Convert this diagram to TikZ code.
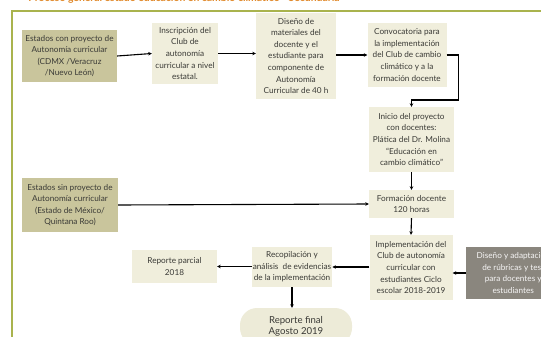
\documentclass[tikz,border=0pt]{standalone}
\usepackage{fontspec}
\setmainfont{Lato}
\usetikzlibrary{arrows.meta}
\definecolor{olivebox}{HTML}{C9C59C}
\definecolor{creambox}{HTML}{F0EEDC}
\definecolor{graybox}{HTML}{8A867E}
\definecolor{framecol}{HTML}{A9B34D}
\definecolor{titlecol}{HTML}{E0892B}
\definecolor{txt}{HTML}{3A3A36}
\begin{document}
\begin{tikzpicture}[x=1pt,y=-1pt,
  box/.style={draw=none,align=center,inner sep=1pt,font=\fontsize{8.2}{11.6}\selectfont,text=txt},
  dark/.style={box,fill=olivebox},
  light/.style={box,fill=creambox},
  conn/.style={draw=black,line width=1.1pt,-{Stealth[length=3.5pt,width=3.5pt]}}]
\useasboundingbox (0,0) rectangle (541,337);
\clip (0,0) rectangle (541,337);
\node[anchor=center,text=titlecol,font=\bfseries\fontsize{10.4}{12}\selectfont] (title) at (184,-1) {Proceso general estado educación en cambio climático - Secundaria};
\draw[framecol,line width=1.6pt] (12,11) rectangle (600,400);
\node[dark,minimum width=95pt,minimum height=52pt] (a) at (69.5,56) {Estados con proyecto de\\Autonomía curricular\\(CDMX /Veracruz\\/Nuevo León)};
\node[light,minimum width=66pt,minimum height=61pt] (b) at (185,53.5) {Inscripción del\\Club de\\autonomía\\curricular a nivel\\estatal.};
\node[light,minimum width=80pt,minimum height=86pt] (c) at (296,56) {Diseño de\\materiales del\\docente y el\\estudiante para\\componente de\\Autonomía\\Curricular de 40 h};
\node[light,minimum width=79pt,minimum height=64pt] (d) at (407,55) {Convocatoria para\\la implementación\\del Club de cambio\\climático y a la\\formación docente};
\node[light,minimum width=85pt,minimum height=65pt] (e) at (411.5,139.5) {Inicio del proyecto\\con docentes:\\Plática del Dr. Molina\\“Educación en\\cambio climático”};
\node[light,minimum width=85pt,minimum height=28pt] (f) at (411.5,204) {Formación docente\\120 horas};
\node[light,minimum width=83pt,minimum height=65pt] (g) at (411,267.5) {Implementación del\\Club de autonomía\\curricular con\\estudiantes Ciclo\\escolar 2018-2019};
\node[box,fill=graybox,text=white!92!graybox,minimum width=94pt,minimum height=52pt,anchor=west,inner xsep=4pt] (h) at (466,273) {Diseño y adaptación\\de rúbricas y test\\para docentes y\\estudiantes};
\node[light,minimum width=80pt,minimum height=40pt] (i) at (292,267) {Recopilación y\\análisis~~de evidencias\\de la implementación};
\node[light,minimum width=85pt,minimum height=33pt] (j) at (174.5,266.5) {Reporte parcial\\2018};
\node[light,fill=creambox!93!olivebox,rounded corners=17pt,minimum width=112pt,minimum height=37pt,font=\fontsize{9.6}{11.5}\selectfont] (k) at (296,326.5) {Reporte final\\Agosto 2019};
\node[dark,minimum width=96pt,minimum height=54pt] (l) at (70,205) {Estados sin proyecto de\\Autonomía curricular\\(Estado de México/\\Quintana Roo)};
\draw[conn] (a.east) -- (b.west);
\draw[conn] (b.east) -- (b.east -| c.west);
\draw[conn] (c.east |- d.west) -- (d.west);
\draw[conn] (d.east) -- ++(12,0) |- (411.5,100) -- (e.north -| 411.5,0);
\draw[conn] (e.south) -- (f.north);
\draw[conn] (l.east) -- (f.west);
\draw[conn] (f.south) -- (g.north);
\draw[conn] (h.west) -- (h.west -| g.east);
\draw[conn] (g.west |- i.east) -- (i.east);
\draw[conn] (i.west |- j.east) -- (j.east);
\draw[conn] (i.south) -- (i.south |- k.north);
\end{tikzpicture}
\end{document}
